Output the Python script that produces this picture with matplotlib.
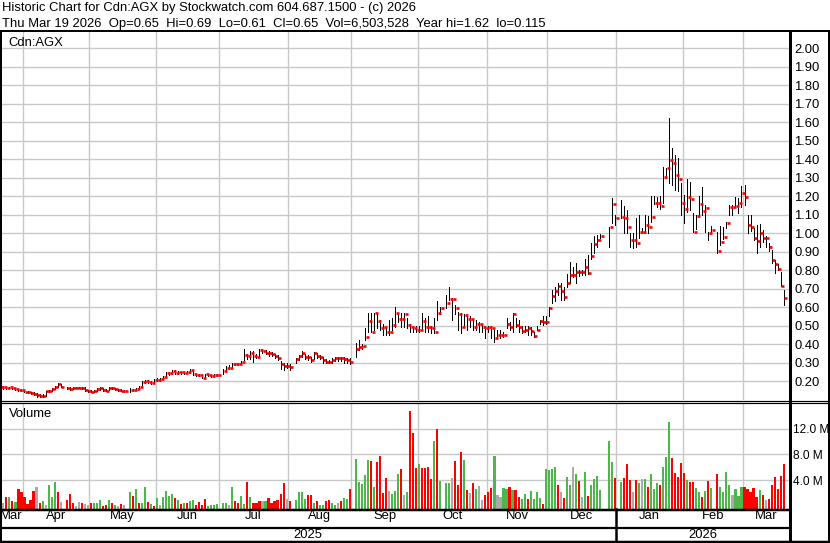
import numpy as np
import pandas as pd
import matplotlib
matplotlib.use("Agg")
import matplotlib.pyplot as plt
from matplotlib.lines import Line2D

plt.rcParams['font.family'] = ['Liberation Sans', 'DejaVu Sans']

W, H = 830, 543

# one slot per weekday, Mar 20 2025 .. Mar 19 2026 (None = market holiday)
days = pd.bdate_range('2025-03-20', '2026-03-19')

close = [
    0.165, 0.165, 0.16, 0.165, 0.16, 0.155, 0.15, 0.15,  # Mar
    0.142, 0.142, 0.135, 0.13, 0.125, 0.12, 0.12, 0.145, 0.146, 0.155, 0.17, 0.182, 0.17, None,
    0.16, 0.155, 0.164, 0.164, 0.164, 0.164, 0.15, 0.145,  # Apr
    0.142, 0.148, 0.155, 0.16, 0.15, 0.148, 0.16, 0.16, 0.155, 0.152, 0.148, 0.146, None,
    0.15, 0.15, 0.155, 0.17, 0.196, 0.2, 0.196, 0.19, 0.205,  # May
    0.205, 0.21, 0.223, 0.242, 0.242, 0.254, 0.242, 0.247, 0.247, 0.242, 0.25, 0.26, 0.236,
    0.232, 0.232, 0.218, 0.236, 0.232, 0.227, 0.232, 0.232,  # Jun
    None, 0.254, 0.272, 0.272, 0.292, 0.292, 0.292, 0.304, 0.34, 0.335, 0.35, 0.335, 0.332,
    0.368, 0.362, 0.353, 0.35, 0.345, 0.335, 0.326, 0.29, 0.281, 0.28,  # Jul
    0.277, None, 0.317, 0.335, 0.35, 0.328, 0.328, 0.313, 0.35, 0.335, 0.328, 0.313, 0.304,
    0.304, 0.313, 0.322, 0.322, 0.322, 0.317, 0.313, 0.304,  # Aug
    None, 0.371, 0.382, 0.389, 0.436, 0.524, 0.467, 0.566, 0.524, 0.485, 0.494, 0.467, 0.467,
    0.503, 0.566, 0.535, 0.535, 0.562, 0.503, 0.494, 0.485, 0.476,  # Sep
    0.476, 0.524, 0.494, 0.494, 0.485, 0.467, 0.566, 0.596, None, 0.62, 0.643, 0.643, 0.596,
    0.562, 0.494, 0.557, 0.535, 0.535, 0.494, 0.506, 0.506, 0.494, 0.485,  # Oct
    0.494, 0.485, 0.434, 0.449, 0.449, 0.449, 0.506, 0.494, 0.56, 0.503, 0.494, 0.47, 0.476,
    0.485, 0.47, 0.443, 0.476, 0.524, 0.517, 0.52,  # Nov
    0.596, 0.659, 0.686, 0.715, 0.688, 0.656, 0.728, 0.775, 0.775, 0.789, 0.789, 0.789, 0.818,
    0.782, 0.878, 0.939, 0.962, 0.984, None, None, 1.034, 1.157, 1.079,  # Dec
    None, 1.088, 1.083, 1.034, 0.962, 0.962, 0.948, 1.006, 1.006, 1.043, 1.034, 1.088, 1.16,
    1.164, 1.148, 1.305, 1.35, 1.395, 1.377, 1.314, 1.292, 1.164,  # Jan
    1.128, 1.196, 1.186, 1.007, 1.094, 1.157, 1.119, 1.137, 0.998, 1.016, None, 0.903, 0.95,
    0.977, 1.056, 1.139, 1.139, 1.146, 1.164, 1.218,  # Feb
    1.196, 1.043, 1.034, 0.975, 0.959, 0.998, 0.975, 0.975, 0.926, 0.854, 0.831, 0.804, 0.715, 0.65,
]

high = [
    0.17, 0.17, 0.168, 0.17, 0.168, 0.16, 0.158, 0.155,
    0.15, 0.148, 0.142, 0.138, 0.135, 0.128, 0.13, 0.148, 0.15, 0.16, 0.175, 0.19, 0.185, None,
    0.165, 0.165, 0.168, 0.168, 0.168, 0.168, 0.165, 0.15,
    0.15, 0.152, 0.16, 0.165, 0.16, 0.155, 0.165, 0.165, 0.16, 0.158, 0.155, 0.15, None,
    0.16, 0.158, 0.16, 0.175, 0.2, 0.205, 0.205, 0.2, 0.21,
    0.215, 0.215, 0.228, 0.25, 0.25, 0.262, 0.258, 0.255, 0.25, 0.25, 0.255, 0.265, 0.255,
    0.24, 0.24, 0.232, 0.24, 0.24, 0.235, 0.238, 0.24,
    None, 0.265, 0.28, 0.285, 0.3, 0.3, 0.3, 0.31, 0.375, 0.345, 0.36, 0.36, 0.345,
    0.375, 0.372, 0.365, 0.36, 0.355, 0.345, 0.34, 0.31, 0.3, 0.295,
    0.29, None, 0.322, 0.34, 0.36, 0.345, 0.34, 0.33, 0.355, 0.35, 0.34, 0.33, 0.32,
    0.315, 0.322, 0.33, 0.33, 0.33, 0.33, 0.325, 0.322,
    None, 0.404, 0.422, 0.40, 0.485, 0.566, 0.566, 0.57, 0.566, 0.53, 0.51, 0.494, 0.53,
    0.54, 0.6, 0.57, 0.566, 0.57, 0.54, 0.51, 0.5, 0.5,
    0.5, 0.566, 0.54, 0.55, 0.5, 0.54, 0.63, 0.602, None, 0.665, 0.71, 0.65, 0.61,
    0.575, 0.566, 0.56, 0.556, 0.55, 0.53, 0.53, 0.52, 0.51, 0.5,
    0.5, 0.5, 0.476, 0.476, 0.476, 0.467, 0.54, 0.52, 0.566, 0.54, 0.53, 0.5, 0.5,
    0.5, 0.494, 0.467, 0.5, 0.53, 0.55, 0.55,
    0.60, 0.69, 0.71, 0.73, 0.73, 0.71, 0.78, 0.845, 0.818, 0.836, 0.80, 0.80, 0.858,
    0.881, 0.944, 0.986, 0.989, 0.995, None, None, 1.034, 1.187, 1.097,
    None, 1.178, 1.146, 1.124, 0.998, 0.998, 1.079, 1.097, 1.025, 1.097, 1.09, 1.2, 1.2,
    1.196, 1.2, 1.359, 1.35, 1.62, 1.458, 1.422, 1.404, 1.269,
    1.205, 1.292, 1.278, 1.11, 1.1, 1.2, 1.247, 1.15, 1.004, 1.038, None, 1.007, 1.038,
    1.034, 1.06, 1.151, 1.151, 1.196, 1.187, 1.254,
    1.26, 1.097, 1.097, 1.025, 1.043, 1.049, 1.016, 0.986, 0.948, 0.908, 0.854, 0.831, 0.791, 0.69,
]

low = [
    0.16, 0.158, 0.155, 0.16, 0.155, 0.15, 0.145, 0.145,
    0.14, 0.135, 0.13, 0.125, 0.115, 0.115, 0.115, 0.12, 0.14, 0.145, 0.155, 0.17, 0.165, None,
    0.155, 0.15, 0.155, 0.16, 0.16, 0.158, 0.148, 0.14,
    0.14, 0.142, 0.148, 0.152, 0.148, 0.145, 0.152, 0.155, 0.15, 0.148, 0.145, 0.142, None,
    0.142, 0.145, 0.15, 0.158, 0.17, 0.19, 0.19, 0.185, 0.19,
    0.2, 0.2, 0.21, 0.225, 0.235, 0.24, 0.236, 0.238, 0.24, 0.236, 0.242, 0.245, 0.232,
    0.225, 0.225, 0.215, 0.222, 0.225, 0.222, 0.225, 0.225,
    None, 0.24, 0.255, 0.265, 0.275, 0.285, 0.285, 0.295, 0.315, 0.32, 0.32, 0.305, 0.325,
    0.33, 0.35, 0.345, 0.335, 0.335, 0.325, 0.315, 0.265, 0.262, 0.27,
    0.26, None, 0.3, 0.315, 0.33, 0.32, 0.315, 0.305, 0.32, 0.325, 0.32, 0.3, 0.298,
    0.298, 0.3, 0.31, 0.31, 0.31, 0.3, 0.3, 0.29,
    None, 0.332, 0.368, 0.375, 0.422, 0.467, 0.467, 0.475, 0.485, 0.475, 0.45, 0.45, 0.45,
    0.475, 0.494, 0.52, 0.494, 0.494, 0.485, 0.467, 0.467, 0.465,
    0.465, 0.475, 0.467, 0.467, 0.457, 0.457, 0.53, 0.56, None, 0.594, 0.638, 0.53, 0.56,
    0.475, 0.458, 0.5, 0.476, 0.494, 0.476, 0.476, 0.467, 0.467, 0.43,
    0.467, 0.43, 0.413, 0.43, 0.43, 0.44, 0.485, 0.476, 0.467, 0.494, 0.467, 0.457, 0.467,
    0.45, 0.45, 0.44, 0.476, 0.51, 0.505, 0.51,
    0.55, 0.62, 0.63, 0.665, 0.638, 0.638, 0.706, 0.728, 0.764, 0.728, 0.77, 0.773, 0.773,
    0.78, 0.86, 0.89, 0.926, 0.975, None, None, 0.926, 1.052, 1.043,
    None, 1.079, 0.998, 0.998, 0.926, 0.917, 0.926, 0.971, 0.998, 0.998, 1.0, 1.06, 1.157,
    1.142, 1.128, 1.16, 1.295, 1.269, 1.26, 1.233, 1.229, 1.097,
    1.056, 1.115, 1.124, 1.007, 1.02, 1.097, 1.1, 1.007, 0.962, 1.007, None, 0.89, 0.935,
    0.966, 1.025, 1.097, 1.097, 1.142, 1.106, 1.142,
    1.15, 0.998, 1.013, 0.962, 0.89, 0.926, 0.953, 0.926, 0.905, 0.836, 0.782, 0.8, 0.715, 0.61,
]

# volume in millions of shares
volume = [
    0.6, 0.5, 1.45, 1.45, 0.78, 0.6, 2.7, 2.1,
    1.45, 0.3, 0.9, 2.3, 3.0, 0.5, 0.78, 0.2, 3.2, 1.45, 3.7, 2.2, 0.55, None,
    1.0, 1.8, 0.4, 0.05, 0.55, 0.4, 0.3, 0.2,
    0.5, 0.45, 0.45, 1.0, 0.05, 0.2, 0.9, 0.4, 0.2, 0.05, 0.3, 0.1, None,
    2.2, 1.6, 2.7, 0.4, 0.5, 3.0, 0.65, 0.3, 0.05,
    1.2, 0.1, 1.45, 2.3, 1.6, 1.8, 1.2, 0.9, 0.3, 0.5, 0.4, 0.8, 0.9, 0.15, 0.55, 0.15,
    1.1, 0.05, 0.1, 0.1, 0.35,
    None, 0.45, 0.4, 0.1, 2.9, 0.8, 0.4, 1.6, 0.3, 3.7, 1.35, 0.5, 0.4, 0.7, 0.78, 0.78,
    1.2, 0.5, 0.78, 0.9, 1.9, 3.6, 1.1,
    0.7, None, 0.96, 2.2, 2.2, 1.05, 1.7, 1.7, 0.5, 0.8, 0.2, 0.2, 0.7, 1.0, 0.4, 0.2,
    0.4, 0.8, 1.25, 1.1, 2.6,
    None, 7.29, 3.77, 3.41, 4.81, 7.13, 6.98, 3.0, 6.82, 7.75, 1.96, 4.34, 2.33, 1.86, 2.33,
    4.96, 5.74, 1.71, 2.09, 14.73, 11.32, 5.89,
    6.51, 5.89, 5.89, 6.1, 4.19, 10.08, 11.94, 3.88, None, 3.62, 3.62, 4.34, 7.0, 3.26,
    8.37, 7.13, 2.48, 1.96, 3.62, 2.64, 3.1, 0.93, 1.71,
    2.09, 2.84, 7.75, 1.71, 1.45, 2.84, 2.64, 3.0, 2.48, 2.48, 1.45, 1.09, 1.86, 1.09,
    2.33, 1.09, 2.09, 1.29, 0.31, 5.74,
    5.58, 5.74, 6.1, 3.26, 2.2, 1.3, 4.5, 3.3, 6.1, 5.0, 3.9, 1.45, 5.3, 1.55, 3.26,
    4.19, 4.65, 2.48, None, None, 10.1, 6.8, 4.34,
    None, 3.7, 4.34, 6.5, 4.0, 2.2, 4.0, 3.57, 4.2, 4.2, 2.9, 4.96, 2.7, 3.6, 3.26,
    6.1, 7.6, 13.1, 7.44, 5.1, 4.5, 6.67,
    5.1, 4.0, 3.72, 3.72, 2.79, 2.17, 1.4, 2.33, 3.9, 2.79, None, 4.96, 2.95, 2.17,
    5.27, 3.26, 1.71, 2.64, 1.55, 2.95,
    2.95, 2.64, 2.17, 2.79, 1.4, 2.48, 1.71, 0.93, 1.09, 3.26, 4.5, 2.64, 4.65, 6.5,
]

# g = up day, r = down day, n = unchanged, - = holiday
vol_dir = ("nnrgrgrr" "rrrrnrgngggrn-rrrnnrnn" "rgggrrgrgnrn-grgrggrgr"
           "gnggggrgrgrggrrrrgggg" "-ggngrrggrgrrrngrrrrrrn" "r-ggggrrgrggrrggnrggr"
           "-gggggrgrrrrngggrngrrr" "grrrrgrg-ggnrrrgrnrgnnr" "rrgnnggrgrrggrggggrg"
           "gggrnrggngrngrgggg--ggr" "-grrrnrgngrgggrgggrrrr" "rgrrggrgrg-rggggnggg"
           "rrrrrgrnrrrrrr")

price_ticks = [0.20, 0.30, 0.40, 0.50, 0.60, 0.70, 0.80, 0.90, 1.00,
               1.10, 1.20, 1.30, 1.40, 1.50, 1.60, 1.70, 1.80, 1.90, 2.00]
vol_ticks = [4, 8, 12]
vol_labels = ['4.0 M', '8.0 M', '12.0 M']

header1 = "Historic Chart for Cdn:AGX by Stockwatch.com 604.687.1500 - (c) 2026"
header2 = ("Thu Mar 19 2026  Op=0.65  Hi=0.69  Lo=0.61  Cl=0.65  "
           "Vol=6,503,528  Year hi=1.62  lo=0.115")

GRID = '#c8c8c8'
GREEN = '#4cb84c'
COLORS = {'g': GREEN, 'r': '#ff0000', 'n': '#aaaaaa', '-': 'white'}
FS = 9.4
X0, X1 = -0.13, 261.77
VOL_FLOOR = -0.45


def box(x0, y0, x1, y1):
    return [x0 / W, 1 - y1 / H, (x1 - x0) / W, (y1 - y0) / H]


x = np.arange(len(days))
c = np.array(close, dtype=float)
hi = np.array(high, dtype=float)
lo = np.array(low, dtype=float)
vol = np.array(volume, dtype=float)
ok = ~np.isnan(c)

# month boundaries and label centres
new_month = np.flatnonzero(days.month[1:] != days.month[:-1]) + 1
bounds = new_month - 0.5
edges = np.r_[X0, bounds, X1]
centers = (edges[:-1] + edges[1:]) / 2
month_names = [days[0].strftime('%b')] + [days[i].strftime('%b') for i in new_month]
new_year = np.flatnonzero(days.year[1:] != days.year[:-1])[0] + 1
year_edge = new_year - 0.5

fig = plt.figure(figsize=(W / 100, H / 100), dpi=100)

# ---- price panel
ax = fig.add_axes(box(0, 31, 789, 400))
ax.set_xlim(X0, X1)
ax.set_ylim(0.0973, 2.0919)
ax.set_yticks(price_ticks)
ax.set_yticklabels(['%.2f' % t for t in price_ticks])
ax.yaxis.tick_right()
ax.set_xticks([])
ax.set_xticks(bounds, minor=True)
ax.tick_params(which='both', length=0, labelsize=FS, pad=3.6)
ax.tick_params(axis='x', which='both', labelbottom=False)
ax.grid(True, which='major', axis='y', color=GRID, lw=1.0)
ax.grid(True, which='minor', axis='x', color=GRID, lw=1.0)
ax.set_axisbelow(True)
for s in ax.spines.values():
    s.set_visible(False)
ax.vlines(x[ok], lo[ok], hi[ok], color='black', lw=0.72, antialiased=False)
ax.hlines(c[ok], x[ok] + 0.2, x[ok] + 1.2, color='red', lw=1.9)
ax.text(8 / 789, 1 - 15 / 369, 'Cdn:AGX', transform=ax.transAxes,
        fontsize=FS, va='baseline')

# ---- volume panel
av = fig.add_axes(box(0, 403, 789, 509))
av.set_xlim(X0, X1)
av.set_ylim(-0.47, 15.97)
ok_v = ~np.isnan(vol)
av.bar(x[ok_v], vol[ok_v] - VOL_FLOOR, bottom=VOL_FLOOR, width=0.7,
       color=[COLORS[d] for d in np.array(list(vol_dir))[ok_v]], antialiased=False)
av.set_yticks(vol_ticks)
av.set_yticklabels(vol_labels)
av.yaxis.tick_right()
av.set_xticks(centers)
av.set_xticklabels(month_names)
av.set_xticks(bounds, minor=True)
av.tick_params(which='both', length=0, labelsize=FS)
av.tick_params(axis='y', pad=2.8, labelsize=8.6)
av.tick_params(axis='x', pad=0.9)
av.grid(True, which='major', axis='y', color=GRID, lw=1.0)
av.grid(True, which='minor', axis='x', color=GRID, lw=1.0)
av.set_axisbelow(True)
for s in av.spines.values():
    s.set_visible(False)
av.text(9 / 789, 1 - 14 / 106, 'Volume', transform=av.transAxes,
        fontsize=FS, va='baseline')

# year row
xt = av.get_xaxis_transform()
for label, a, b in [(str(days[0].year), X0, year_edge), (str(days[-1].year), year_edge, X1)]:
    av.text((a + b) / 2, -(538 - 509) / 106, label, transform=xt,
            ha='center', va='baseline', fontsize=FS)
av.plot([year_edge, year_edge], [0, -(541 - 509) / 106], transform=xt,
        color='black', lw=1.8, clip_on=False)

# header
fig.text(2 / W, 1 - 11.3 / H, header1, fontsize=FS, va='baseline')
fig.text(2 / W, 1 - 26.5 / H, header2, fontsize=FS, va='baseline')


def rule(x0, y0, x1, y1, px):
    fig.add_artist(Line2D([x0 / W, x1 / W], [1 - y0 / H, 1 - y1 / H],
                          transform=fig.transFigure, color='black',
                          lw=px * 0.72, solid_capstyle='butt'))


rule(0, 30.5, W, 30.5, 2)
rule(1, 30, 1, 542, 2)
rule(828.5, 30, 828.5, 543, 3)
rule(789.5, 30, 789.5, 543, 3)
rule(0, 400.7, W, 400.7, 1.2)
rule(0, 402.7, W, 402.7, 1.2)
rule(0, 509.8, 789, 509.8, 2.5)
rule(0, 527.8, 789, 527.8, 2.2)
rule(0, 541.5, W, 541.5, 2.5)

fig.savefig('out.png', dpi=100, facecolor='white')
